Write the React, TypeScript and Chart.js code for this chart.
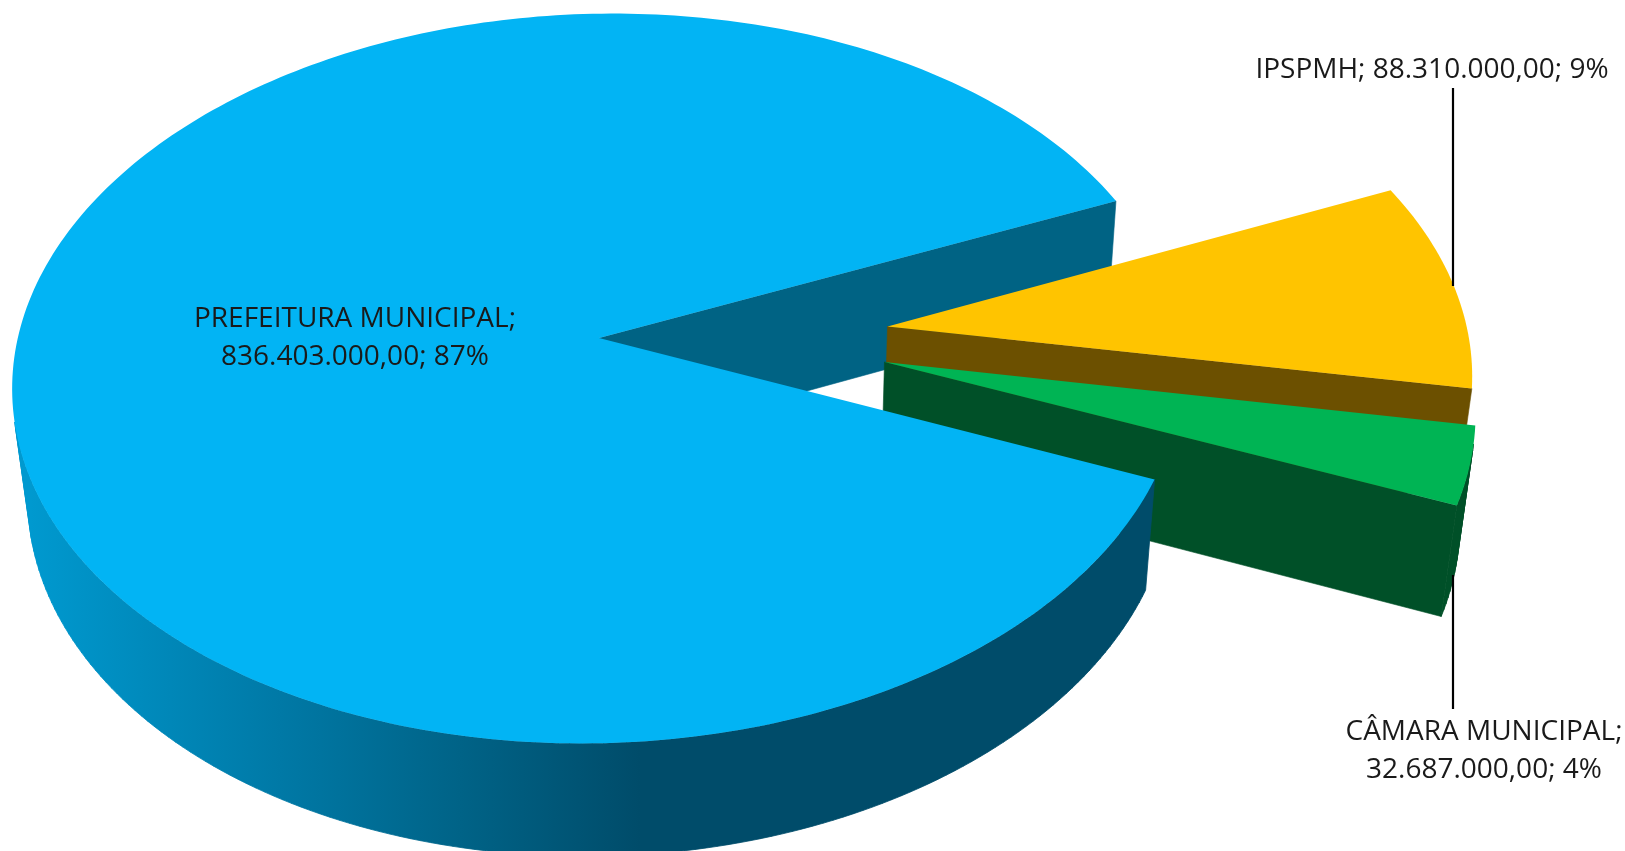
import React, { useEffect, useRef } from "react";
import { Chart, registerables } from "chart.js";

Chart.register(...registerables);

// ---- data ----
const categories = ["PREFEITURA MUNICIPAL", "IPSPMH", "CÂMARA MUNICIPAL"];
const values = [836403000, 88310000, 32687000];
const topColors = ["#02B4F4", "#FFC400", "#00B454"];
const radialWallColors = ["#006384", "#6C5000", "#005028"];
const outerWallColors = ["gradient", "#6C5000", "#005028"];
const labelLines = [
  ["PREFEITURA MUNICIPAL;", "836.403.000,00; 87%"],
  ["IPSPMH; 88.310.000,00; 9%"],
  ["CÂMARA MUNICIPAL;", "32.687.000,00; 4%"],
];

// ---- layout ----
const WIDTH = 1625;
const HEIGHT = 851;
const PIE_RADIUS = 581;
const EXPLODE = 145;
const CENTER_X = 744;
const CENTER_Y = 337;
const ROTATION = 112.1;
const TILT_SIN = 0.62;
const TILT_COS = 0.785;
const CAMERA_DIST = 7.08 * PIE_RADIUS;
const THICKNESS = 0.2444 * PIE_RADIUS;
const FONT = '28px "Open Sans", Lato, sans-serif';
const LABEL_POS = [
  { x: 355, y: 319 },
  { x: 1432, y: 70 },
  { x: 1484, y: 732 },
];
const LINE_GAP = 38.5;
const LEADERS = [
  { x: 1453, y1: 88, y2: 286 },
  { x: 1453, y1: 575, y2: 709 },
];
const WALL_GRADIENT: [number, string][] = [
  [30, "#0099CF"],
  [280, "#0079A6"],
  [460, "#006387"],
  [640, "#004C6A"],
];

function project(cx: number, cy: number, px: number, py: number, z: number) {
  const X = px - cx;
  const Y = cy - py;
  const w = (CAMERA_DIST + Y * TILT_COS - z * TILT_SIN) / CAMERA_DIST;
  return { x: cx + X / w, y: cy - (Y * TILT_SIN + z * TILT_COS) / w };
}

const pie3d = {
  id: "pie3d",
  beforeDatasetsDraw(chart: any) {
    const ctx: CanvasRenderingContext2D = chart.ctx;
    const arcs: any[] = chart.getDatasetMeta(0).data;
    const pieces = arcs.map((arc, i) => {
      const mid = (arc.startAngle + arc.endAngle) / 2;
      const off = arc.options.offset || 0;
      const ox = arc.x + Math.cos(mid) * off;
      const oy = arc.y + Math.sin(mid) * off;
      const R = arc.outerRadius;
      const steps = Math.max(8, Math.ceil(((arc.endAngle - arc.startAngle) * 180) / Math.PI));
      const top: { x: number; y: number }[] = [];
      const bot: { x: number; y: number }[] = [];
      for (let s = 0; s <= steps; s++) {
        const a = arc.startAngle + ((arc.endAngle - arc.startAngle) * s) / steps;
        const px = ox + R * Math.cos(a);
        const py = oy + R * Math.sin(a);
        top.push(project(arc.x, arc.y, px, py, 0));
        bot.push(project(arc.x, arc.y, px, py, -THICKNESS));
      }
      return {
        i,
        arc,
        top,
        bot,
        tipTop: project(arc.x, arc.y, ox, oy, 0),
        tipBot: project(arc.x, arc.y, ox, oy, -THICKNESS),
      };
    });

    const fillPoly = (pts: { x: number; y: number }[], fill: any, seal = false) => {
      ctx.beginPath();
      pts.forEach((p, k) => (k ? ctx.lineTo(p.x, p.y) : ctx.moveTo(p.x, p.y)));
      ctx.closePath();
      ctx.fillStyle = fill;
      ctx.fill();
      if (seal) {
        ctx.strokeStyle = fill;
        ctx.lineWidth = 0.6;
        ctx.stroke();
      }
    };
    // the radial wall on the clockwise end of a slice faces the viewer
    const radial = (p: any) => {
      const n = p.top.length - 1;
      fillPoly([p.tipTop, p.top[n], p.bot[n], p.tipBot], radialWallColors[p.i], true);
    };
    const outer = (p: any) => {
      let fill: any = outerWallColors[p.i];
      if (fill === "gradient") {
        const x0 = WALL_GRADIENT[0][0];
        const x1 = WALL_GRADIENT[WALL_GRADIENT.length - 1][0];
        const g = ctx.createLinearGradient(x0, 0, x1, 0);
        WALL_GRADIENT.forEach(([x, c]) => g.addColorStop((x - x0) / (x1 - x0), c));
        fill = g;
      }
      ctx.beginPath();
      for (let k = 0; k < p.top.length - 1; k++) {
        const q = [p.top[k], p.top[k + 1], p.bot[k + 1], p.bot[k]];
        let area = 0;
        q.forEach((a, j) => {
          const b = q[(j + 1) % 4];
          area += a.x * b.y - b.x * a.y;
        });
        if (area >= 0) continue; // faces away from the viewer
        ctx.moveTo(q[0].x, q[0].y);
        for (let j = 1; j < 4; j++) ctx.lineTo(q[j].x, q[j].y);
        ctx.closePath();
      }
      ctx.fillStyle = fill;
      ctx.strokeStyle = fill;
      ctx.lineWidth = 0.8;
      ctx.stroke();
      ctx.fill();
    };
    const topFace = (p: any) => {
      fillPoly([p.tipTop, ...p.top], p.arc.options.backgroundColor);
    };

    const largest = pieces.reduce((a, b) =>
      b.arc.endAngle - b.arc.startAngle > a.arc.endAngle - a.arc.startAngle ? b : a
    );
    radial(largest);
    pieces
      .filter((p) => p !== largest)
      .forEach((p) => {
        outer(p);
        radial(p);
        topFace(p);
      });
    outer(largest);
    topFace(largest);
    return false;
  },
  afterDraw(chart: any) {
    const ctx: CanvasRenderingContext2D = chart.ctx;
    ctx.save();
    ctx.strokeStyle = "#000000";
    ctx.lineWidth = 2.2;
    LEADERS.forEach((l) => {
      ctx.beginPath();
      ctx.moveTo(l.x, l.y1);
      ctx.lineTo(l.x, l.y2);
      ctx.stroke();
    });
    ctx.fillStyle = "#1a1a1a";
    ctx.font = FONT;
    ctx.textAlign = "center";
    ctx.textBaseline = "middle";
    labelLines.forEach((lines, i) => {
      lines.forEach((t, k) => ctx.fillText(t, LABEL_POS[i].x, LABEL_POS[i].y + k * LINE_GAP));
    });
    ctx.restore();
  },
};

export default function App() {
  const ref = useRef<HTMLCanvasElement>(null);
  useEffect(() => {
    document.body.style.margin = "0";
    document.body.style.overflow = "hidden";
    document.body.style.background = "#ffffff";
    const chart = new Chart(ref.current as HTMLCanvasElement, {
      type: "pie",
      data: {
        labels: categories,
        datasets: [
          {
            data: values,
            backgroundColor: topColors,
            borderWidth: 0,
            offset: EXPLODE,
            radius: PIE_RADIUS,
          } as any,
        ],
      },
      options: {
        responsive: false,
        animation: false,
        devicePixelRatio: 1,
        rotation: ROTATION,
        layout: {
          padding: {
            left: 0,
            top: 0,
            right: WIDTH - 2 * CENTER_X,
            bottom: HEIGHT - 2 * CENTER_Y,
          },
        },
        plugins: { legend: { display: false }, tooltip: { enabled: false } },
      },
      plugins: [pie3d],
    });
    return () => chart.destroy();
  }, []);
  return (
    <canvas
      ref={ref}
      width={WIDTH}
      height={HEIGHT}
      style={{ display: "block", width: WIDTH, height: HEIGHT }}
    />
  );
}
